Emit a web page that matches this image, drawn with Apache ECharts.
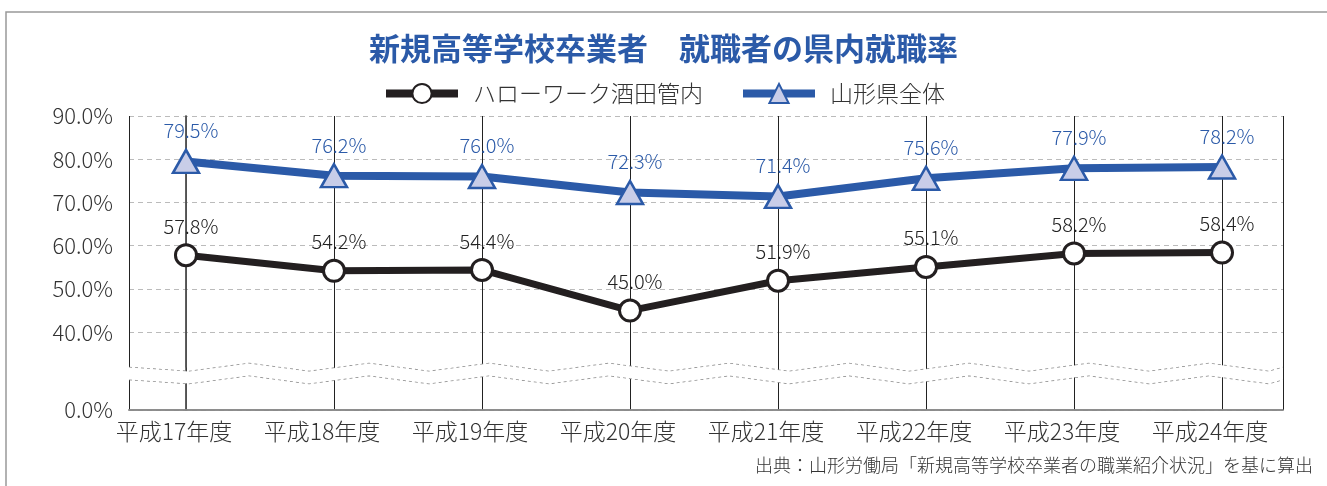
<!DOCTYPE html>
<html>
<head>
<meta charset="utf-8">
<script src="https://cdn.jsdelivr.net/npm/echarts@6/dist/echarts.min.js"></script>
<style>
    html, body { margin: 0; padding: 0; background: #fff; }
    #chart { width: 1327px; height: 486px; }
</style>
</head>
<body>
<div id="chart"></div>
<script>
// 年度
var categories = ['平成17年度', '平成18年度', '平成19年度', '平成20年度',
    '平成21年度', '平成22年度', '平成23年度', '平成24年度'];
// ハローワーク酒田管内
var sakataValues = [57.8, 54.2, 54.4, 45.0, 51.9, 55.1, 58.2, 58.4];
// 山形県全体
var yamagataValues = [79.5, 76.2, 76.0, 72.3, 71.4, 75.6, 77.9, 78.2];
var yTicks = [0, 40, 50, 60, 70, 80, 90];

var FONT = '"Noto Sans CJK JP", "Noto Sans", sans-serif';
var BLUE = '#2b5aa8';
var BLACK = '#231f20';

function toPairs(values) {
    return values.map(function (v, i) { return [i, v]; });
}

function pct(v) {
    return v.toFixed(1) + '%';
}

var mychart = echarts.init(document.getElementById('chart'));
var option = {
    animation: false,
    textStyle: { fontFamily: FONT },
    title: {
        left: 'center',
        top: 28,
        text: '新規高等学校卒業者　就職者の県内就職率',
        textStyle: { color: BLUE, fontSize: 31, fontWeight: 'bold', fontFamily: FONT }
    },
    legend: {
        left: 'center',
        top: 77,
        itemWidth: 72,
        itemHeight: 24,
        itemGap: 36,
        lineStyle: { width: 8 },
        textStyle: { color: '#333', fontSize: 23, fontWeight: 300, fontFamily: FONT, padding: [0, 0, 0, 10] },
        data: ['ハローワーク酒田管内', '山形県全体']
    },
    grid: {
        left: 129,
        right: 44,
        top: 116,
        bottom: 76
    },
    xAxis: [{
        type: 'value',
        min: -0.385,
        max: 7.412,
        splitNumber: 8,
        axisLine: { show: true, lineStyle: { color: '#444', width: 1.5 } },
        axisTick: { show: false },
        axisLabel: {
            color: '#333',
            fontSize: 23,
            fontWeight: 300,
            margin: 10,
            padding: [0, 24, 0, 0],
            fontFamily: FONT,
            formatter: function (v) {
                return (Math.abs(v - Math.round(v)) < 1e-6 && categories[Math.round(v)]) || '';
            }
        },
        splitLine: { show: true, lineStyle: { color: '#222', width: 1, type: 'solid' } }
    }, {
        // 上枠
        type: 'value',
        position: 'top',
        min: -0.385,
        max: 7.412,
        axisLine: { show: true, lineStyle: { color: '#999', width: 1.5 } },
        axisTick: { show: false },
        axisLabel: { show: false },
        splitLine: { show: false }
    }],
    yAxis: [{
        type: 'value',
        min: 0,
        max: 90,
        interval: 10,
        breaks: [{ start: 7, end: 32, gap: 3 }],
        breakArea: {
            show: true,
            itemStyle: { color: '#fff', borderColor: '#888', borderWidth: 1.5, opacity: 1 },
            zigzagAmplitude: 4,
            zigzagMinSpan: 60,
            zigzagMaxSpan: 60,
            expandOnClick: false
        },
        axisLine: { show: true, lineStyle: { color: '#999', width: 1.5 } },
        axisTick: { show: false },
        axisLabel: {
            color: '#333',
            fontSize: 22,
            fontWeight: 300,
            margin: 16,
            customValues: yTicks,
            fontFamily: FONT,
            formatter: function (v) { return pct(v); }
        },
        splitLine: { show: true, lineStyle: { color: '#bbb', width: 1, type: [5, 4] } }
    }, {
        // 右枠
        type: 'value',
        position: 'right',
        min: 0,
        max: 90,
        axisLine: { show: true, lineStyle: { color: '#444', width: 1.5 } },
        axisTick: { show: false },
        axisLabel: { show: false },
        splitLine: { show: false }
    }],
    series: [{
        name: 'ハローワーク酒田管内',
        type: 'line',
        data: toPairs(sakataValues),
        symbol: 'circle',
        symbolSize: 21,
        z: 3,
        lineStyle: { color: BLACK, width: 7 },
        itemStyle: { color: '#fff', borderColor: BLACK, borderWidth: 3 },
        label: {
            show: true,
            position: 'top',
            distance: 7,
            offset: [5, 0],
            color: '#222',
            fontSize: 20,
            fontWeight: 300,
            fontFamily: FONT,
            formatter: function (p) { return pct(p.value[1]); }
        }
    }, {
        name: '山形県全体',
        type: 'line',
        data: toPairs(yamagataValues),
        symbol: 'triangle',
        symbolSize: [26, 23],
        z: 3,
        lineStyle: { color: BLUE, width: 8 },
        itemStyle: { color: '#c8cde8', borderColor: BLUE, borderWidth: 2.5 },
        label: {
            show: true,
            position: 'top',
            distance: 8,
            offset: [5, 0],
            color: BLUE,
            fontSize: 20,
            fontWeight: 300,
            fontFamily: FONT,
            formatter: function (p) { return pct(p.value[1]); }
        }
    }],
    graphic: [{
        type: 'polyline',
        shape: { points: [[6, 486], [6, 12], [1327, 12]] },
        style: { stroke: '#999', lineWidth: 1.5, fill: null },
        silent: true
    }, {
        type: 'text',
        right: 14,
        top: 456,
        style: {
            text: '出典：山形労働局「新規高等学校卒業者の職業紹介状況」を基に算出',
            fill: '#333',
            fontSize: 18,
            fontWeight: 300,
            fontFamily: FONT
        }
    }]
};
mychart.setOption(option);
</script>
</body>
</html>
